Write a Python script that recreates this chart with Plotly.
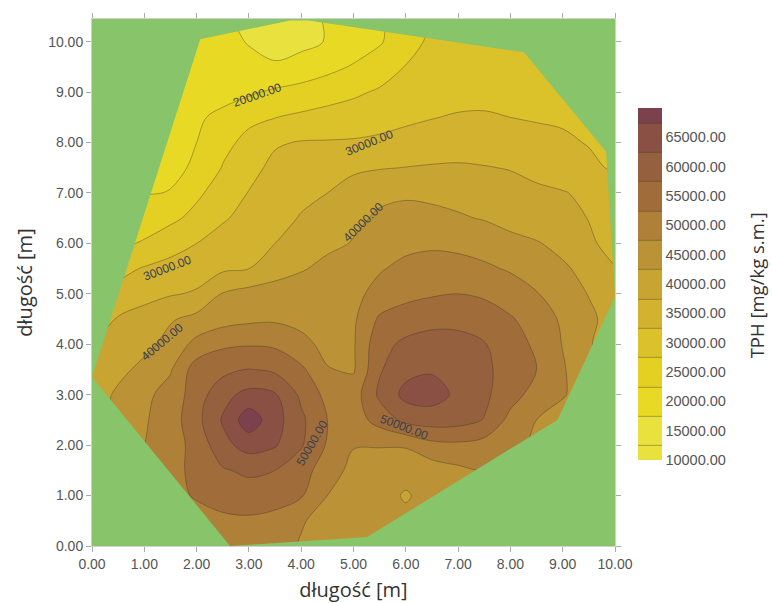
import plotly.graph_objects as go

# grid coordinates [m]
x_m = [0.0, 0.5, 1.0, 1.5, 2.0, 2.5, 3.0, 3.5, 4.0, 4.5, 5.0,
       5.5, 6.0, 6.5, 7.0, 7.5, 8.0, 8.5, 9.0, 9.5, 10.0]
y_m = [0.0, 0.5, 1.0, 1.5, 2.0, 2.5, 3.0, 3.5, 4.0, 4.5, 5.0,
       5.5, 6.0, 6.5, 7.0, 7.5, 8.0, 8.5, 9.0, 9.5, 10.0, 10.5]

# TPH [thousand mg/kg s.m.], one row per y value (bottom to top)
tph_k = [
    [45, 46, 46.5, 47, 47.5, 48, 48, 47, 44.5, 43, 42, 41.5, 41, 41.5, 41.5, 41, 40, 39, 38, 37.5, 37],
    [45, 46, 47, 47.5, 48, 49, 49.3, 48.5, 45.5, 43, 42, 41.5, 41, 41.5, 42, 41.5, 40.5, 39.5, 38.5, 37.5, 37],
    [44, 45.5, 47, 48.5, 50.5, 52, 52.5, 52, 50.5, 45, 42.5, 41.5, 39.6, 41.5, 42.5, 42, 41, 40, 39, 38, 37],
    [42, 44, 46, 48.2, 51.5, 54.5, 56, 55, 52, 47.5, 43.5, 42.5, 41.5, 42.5, 44, 45, 43.5, 42, 40, 38.5, 37],
    [40, 43, 45, 48, 51.5, 58.5, 62, 60.5, 55.5, 49.5, 45.3, 45.3, 45.5, 48.5, 49, 48, 46.5, 44, 42, 40, 38],
    [38, 42, 44.5, 47.5, 53.5, 60.5, 68, 62, 56, 50, 47.5, 52, 56.5, 57.5, 57, 54.8, 48.5, 45, 42.5, 40, 38],
    [37, 41, 43.8, 47, 52.5, 58.5, 61.5, 60.5, 54, 48.5, 47.5, 56, 61.5, 62, 59, 56, 52, 48, 45.5, 42, 39],
    [36, 38.5, 41.5, 44.5, 52.5, 53.5, 55.2, 54, 51, 45.2, 44.5, 54.5, 58.5, 59.5, 59, 56, 53, 50, 45.5, 41.5, 38],
    [34.5, 37.5, 38.5, 41.8, 46.5, 49.2, 49.6, 49.2, 46, 44, 44.5, 53.5, 56, 57, 56.8, 55.3, 52, 49.2, 44.8, 40.5, 37],
    [31, 35.5, 37.5, 39.5, 41.5, 43, 44, 44.3, 44, 43.8, 44.2, 50.8, 52.5, 53.5, 53.5, 52.5, 50.5, 47.8, 44.2, 41, 38],
    [29, 31.5, 33, 34.6, 35.5, 40.3, 41.8, 42.8, 43.2, 43.4, 43.8, 46.5, 48.5, 49.5, 50, 49.3, 47.5, 45.3, 42.5, 39.8, 36],
    [26, 28.5, 30.4, 31.8, 33, 34.2, 35, 37.3, 39.5, 41.5, 43, 44.6, 46.2, 47, 46.5, 45.8, 44.5, 42.5, 40.8, 38.3, 35.2],
    [23, 24, 25.5, 27.8, 30, 32.3, 34, 35, 37.2, 38.8, 40.3, 42, 43.8, 44.2, 44, 43, 41.5, 40.4, 38.5, 35.7, 33.5],
    [21, 21.5, 22.5, 24, 26.3, 29.4, 31.8, 33.5, 35.3, 37, 39, 40.7, 41.2, 41, 40.5, 39.7, 38.3, 37, 36, 34.9, 33],
    [19.5, 19.5, 19.8, 20.1, 24.2, 27, 30.2, 32.5, 34, 35, 37, 39, 39.5, 39.2, 38.5, 37.5, 36.5, 35.8, 35.3, 34, 32],
    [19, 19, 19, 19.5, 20.3, 25.3, 28.5, 31.2, 32.5, 33.5, 34.2, 34.7, 35.1, 35.4, 35.5, 35.2, 34.8, 33.8, 32.3, 30.8, 29.5],
    [19, 19, 19, 19.3, 20, 23.5, 26.5, 29.5, 30.3, 30.4, 30.5, 31, 31.8, 32.5, 33, 33, 32.5, 31.5, 30.6, 29.8, 29],
    [18.5, 18.5, 18.5, 18.8, 19.4, 21, 23.8, 24.9, 25.8, 26.5, 27.3, 28, 29, 29.8, 30.5, 30.6, 30, 29.6, 29.5, 29.5, 29.5],
    [18, 18, 18, 18, 18, 18.5, 19.3, 20.8, 22, 23.2, 24.2, 25.6, 27, 27.5, 28, 28.3, 28.6, 29, 29.3, 29.6, 30],
    [17.5, 17.5, 17.5, 17.5, 17, 16.5, 16, 15.5, 16.5, 18.5, 20.5, 22.5, 25.2, 26.5, 27, 27.5, 28, 28.5, 29, 29.5, 30],
    [17, 17, 17, 17, 16.5, 16, 14.8, 13.5, 14, 15.2, 17, 19.5, 23, 26, 27, 27.5, 28, 28.5, 29, 29.5, 30],
    [17, 17, 17, 17, 16.5, 15.5, 14, 13, 13.5, 15.5, 17.5, 19.5, 22, 25, 26.5, 27, 27.5, 28, 28.5, 29, 29.5],
]

# sampled area outline (convex hull of the measurement points)
hull_x = [0.0, 2.07, 3.79, 4.14, 8.26, 9.83, 10.0, 8.9, 5.26, 2.64]
hull_y = [3.35, 10.05, 10.42, 10.42, 9.79, 7.82, 4.95, 2.5, 0.18, 0.0]

levels_k = [10, 15, 20, 25, 30, 35, 40, 45, 50, 55, 60, 65]
level_labels = ["10000.00", "15000.00", "20000.00", "25000.00", "30000.00", "35000.00",
                "40000.00", "45000.00", "50000.00", "55000.00", "60000.00", "65000.00"]
band_colors = ["#E9E13E", "#E8DA24", "#E4D022", "#DBC12A", "#D2B22E", "#C8A432",
               "#BB9336", "#AE8038", "#A06C3A", "#94603E", "#8A5044", "#7B424E"]
outside_color = "#88C46A"
colorbar_title = "TPH [mg/kg s.m.]"

contour_labels = ["20000.00", "30000.00", "30000.00", "40000.00", "40000.00", "50000.00", "50000.00"]
label_x = [3.16, 5.29, 1.44, 5.19, 1.34, 4.21, 5.96]
label_y = [8.95, 8.0, 5.52, 6.43, 4.05, 2.04, 2.36]
label_angle = [-19, -22, -21, -44, -40, -60, 21]

# discrete colour scale: one stop per band (plus the below-range colour)
stop_colors = [band_colors[0]] + band_colors
n = len(stop_colors) - 1
colorscale = [[i / n, c] for i, c in enumerate(stop_colors)]

step = levels_k[1] - levels_k[0]
# plotly centres each filled band on its level; put each label at the band's lower edge
cbar_tickvals = [v - step / 2 for v in levels_k]

fig = go.Figure()
fig.add_trace(go.Contour(
    x=x_m, y=y_m, z=tph_k,
    autocontour=False,
    contours=dict(start=levels_k[0], end=levels_k[-1], size=step,
                  coloring="fill", showlines=True),
    line=dict(color="rgba(60,50,40,0.55)", width=0.7, smoothing=1.0),
    colorscale=colorscale,
    hoverinfo="skip",
    colorbar=dict(
        x=1.044, xanchor="left", xpad=0,
        y=0.497, yanchor="middle", ypad=0,
        len=0.668, lenmode="fraction", thickness=24,
        outlinewidth=0,
        tickvals=cbar_tickvals, ticktext=level_labels, ticks="",
        tickfont=dict(family="Liberation Sans, Arial", size=14.5, color="#555555"),
    ),
))

# mask outside the sampled area
outer = "M -1 -1 L 11 -1 L 11 12 L -1 12 Z"
inner = "M " + " L ".join(f"{hx} {hy}" for hx, hy in zip(hull_x, hull_y)) + " Z"
fig.add_shape(type="path", path=outer + " " + inner, xref="x", yref="y",
              fillcolor=outside_color, fillrule="evenodd", line=dict(width=0),
              layer="above")

for txt, lx, ly, ang in zip(contour_labels, label_x, label_y, label_angle):
    fig.add_annotation(x=lx, y=ly, text=txt, textangle=ang, showarrow=False,
                       font=dict(family="Liberation Sans, Arial", size=12, color="#3A4050"))

# colour bar title
fig.add_annotation(x=1.27, y=0.495, xref="paper", yref="paper", text=colorbar_title,
                   textangle=-90, showarrow=False, xanchor="center", yanchor="middle",
                   font=dict(family="Open Sans", size=18.5, color="#333333"))

axis_common = dict(
    dtick=1, tickformat=".2f", ticks="outside", ticklen=5, tickcolor="#aaaaaa",
    showline=True, linecolor="#d0d0d0", linewidth=1, mirror="ticks",
    showgrid=False, zeroline=False, automargin=False,
    tickfont=dict(family="Liberation Sans, Arial", size=14, color="#555555"),
)
fig.update_xaxes(range=[0, 10], title=dict(text="długość [m]", standoff=24,
                 font=dict(family="Open Sans", size=20, color="#333333")), **axis_common)
fig.update_yaxes(range=[0, 10.45], title=dict(text="długość [m]", standoff=10,
                 font=dict(family="Open Sans", size=20, color="#333333")), **axis_common)

fig.update_layout(
    width=772, height=603,
    margin=dict(l=92, r=157, t=19, b=57, autoexpand=False),
    paper_bgcolor="white", plot_bgcolor=outside_color,
    showlegend=False,
)

fig.write_html("out.html")
